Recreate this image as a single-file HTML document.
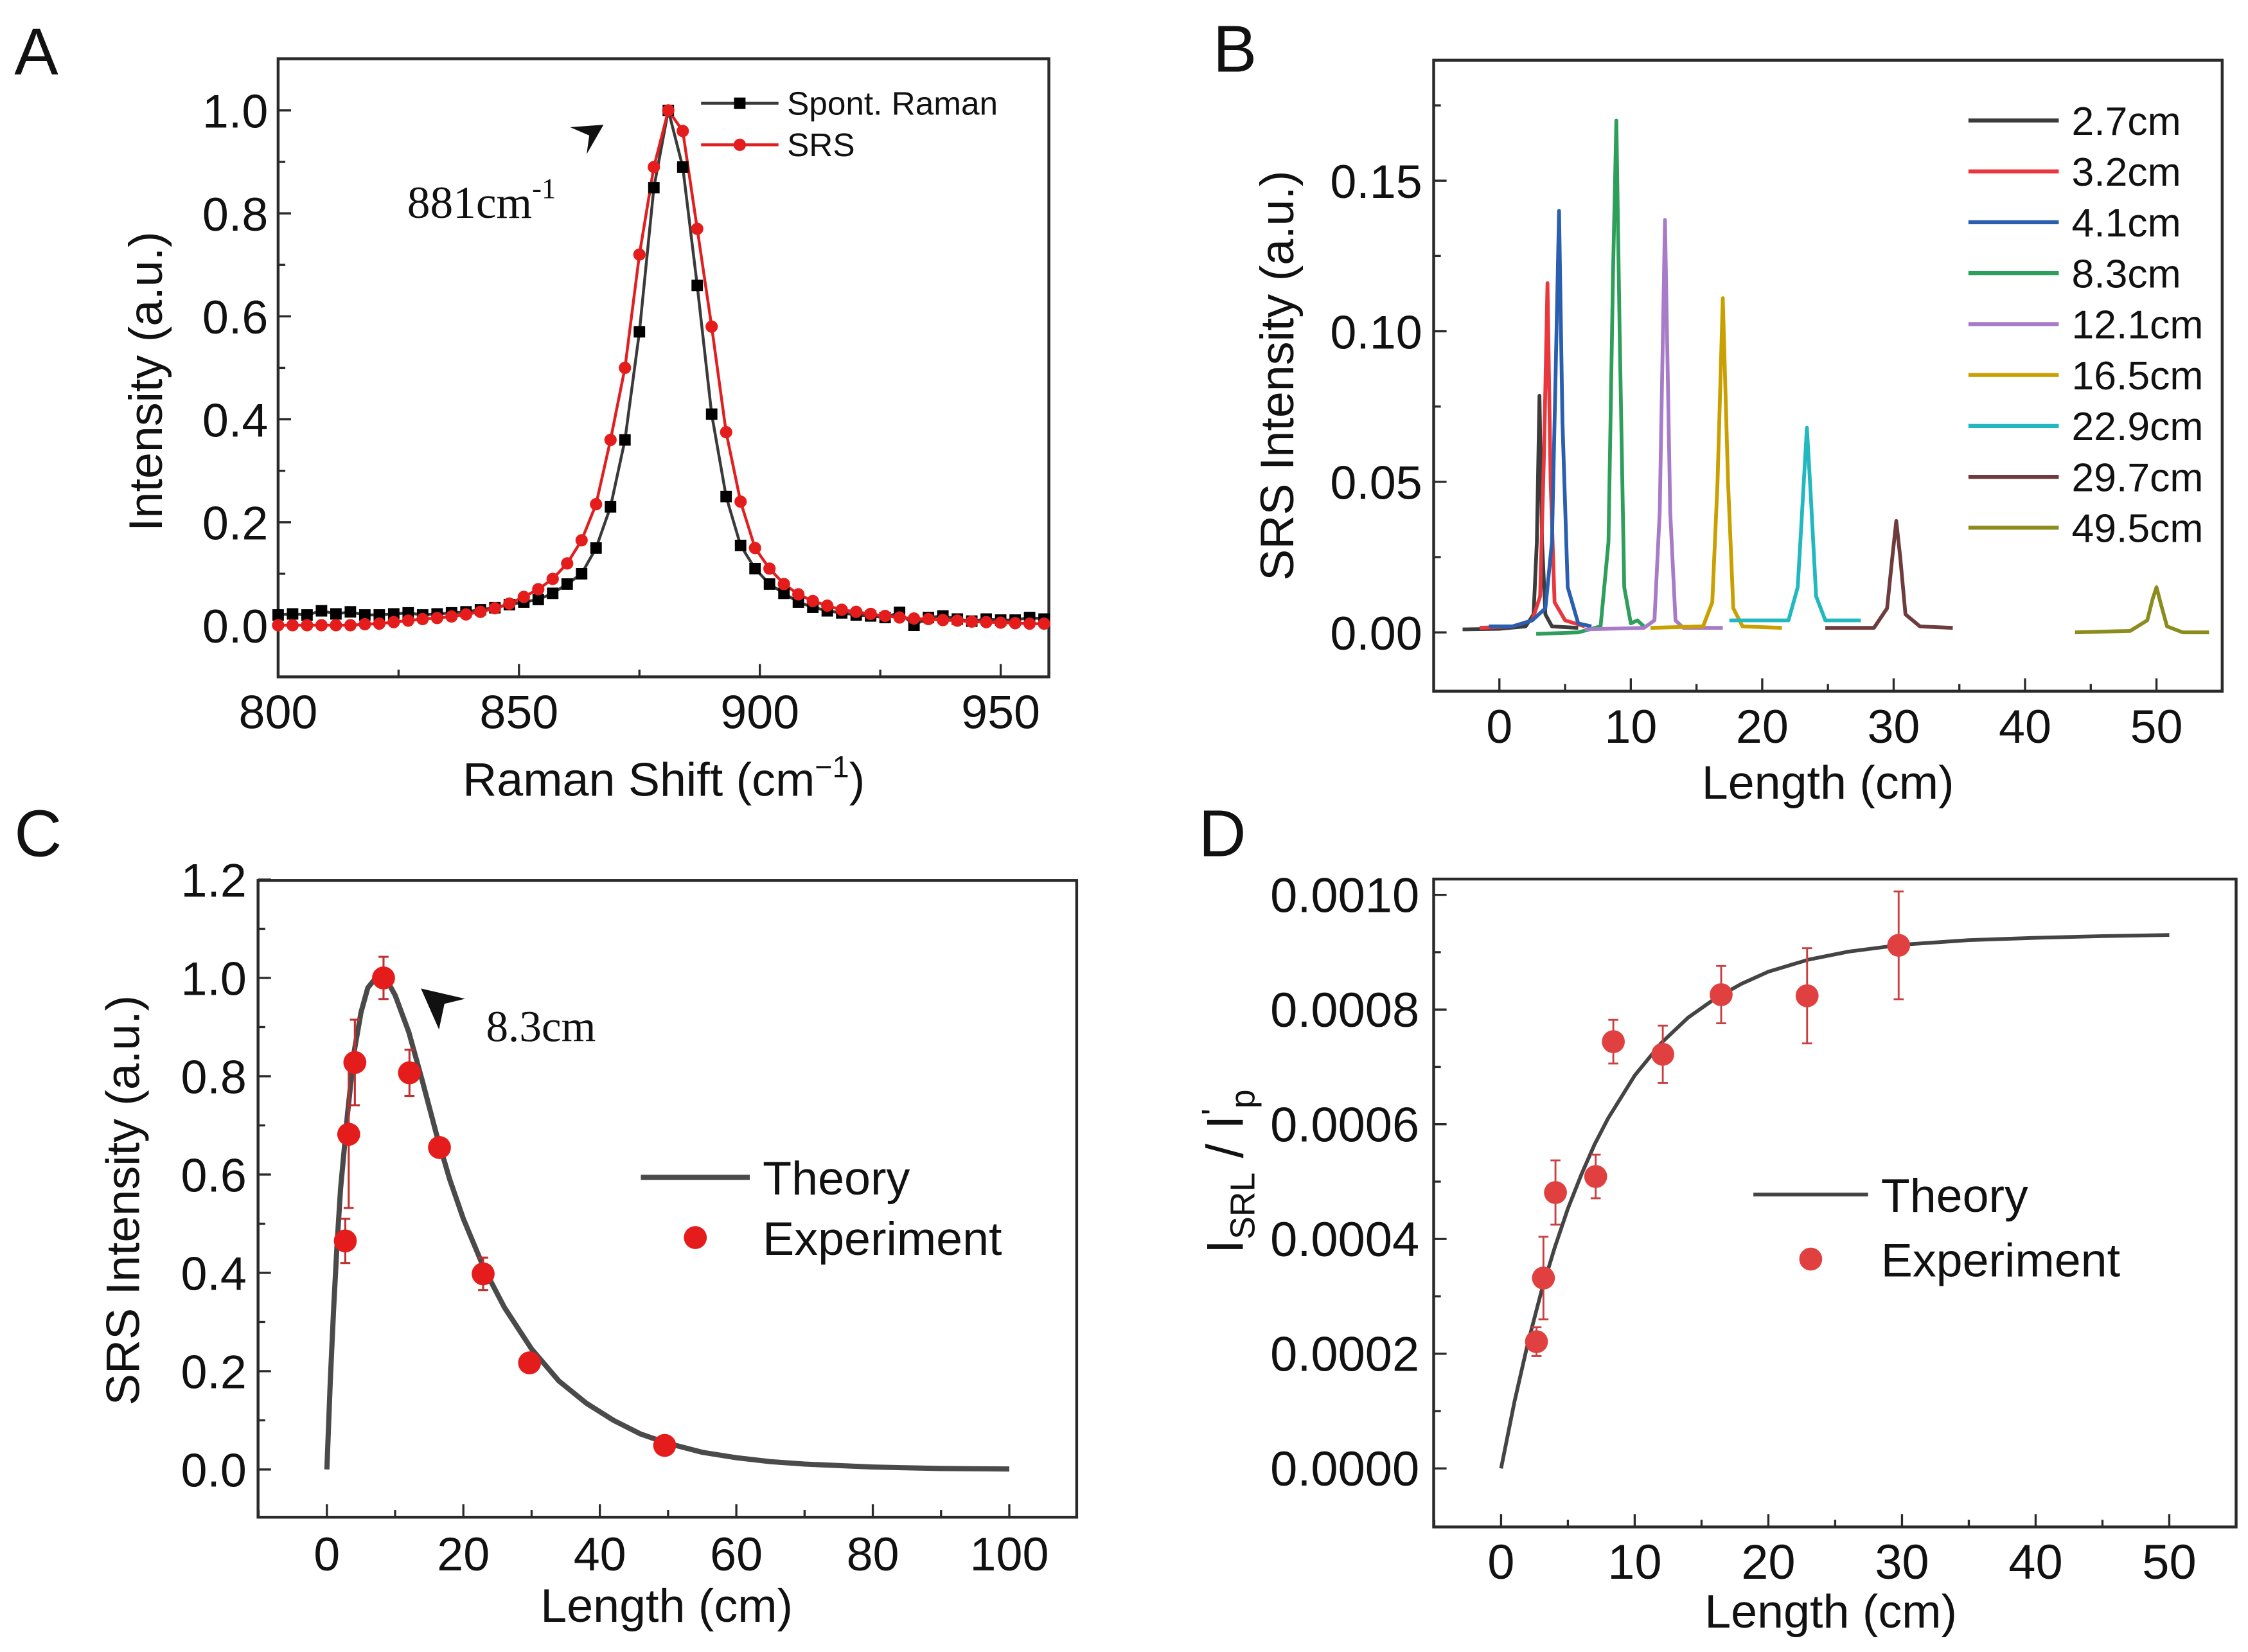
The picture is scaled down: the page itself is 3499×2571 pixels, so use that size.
<!DOCTYPE html>
<html><head><meta charset="utf-8"><style>
html,body{margin:0;padding:0;background:#fff;}
svg{display:block;}
text{font-family:"Liberation Sans",Arial,sans-serif;fill:#111;}
.serif{font-family:"Liberation Serif","Times New Roman",serif;}
</style></head><body>
<svg id="fig" xmlns="http://www.w3.org/2000/svg" width="3499" height="2571" viewBox="0 0 1568 1152" preserveAspectRatio="none">
<rect x="0" y="0" width="1568" height="1152" fill="#fff"/>
<text x="10" y="52" font-size="46">A</text>
<text x="846" y="50" font-size="46">B</text>
<text x="10" y="597" font-size="46">C</text>
<text x="836" y="597" font-size="46">D</text>
<g id="gA"></g>
<g id="gB"></g>
<g id="gC"></g>
<g id="gD"></g>
</svg>
<script>
// ---------- Panel A data ----------
var aShift = [800,803,806,809,812,815,818,821,824,827,830,833,836,839,842,845,848,851,854,857,860,863,866,869,872,875,878,881,884,887,890,893,896,899,902,905,908,911,914,917,920,923,926,929,932,935,938,941,944,947,950,953,956,959];
var aSpont = [0.02,0.022,0.02,0.028,0.022,0.026,0.02,0.02,0.022,0.024,0.02,0.022,0.024,0.026,0.03,0.034,0.04,0.045,0.05,0.062,0.08,0.1,0.15,0.23,0.36,0.57,0.85,1.0,0.89,0.66,0.41,0.25,0.155,0.11,0.08,0.062,0.045,0.035,0.028,0.024,0.02,0.018,0.015,0.025,0.0,0.015,0.018,0.012,0.008,0.012,0.01,0.01,0.015,0.012];
var aSRS = [0.0,0.0,0.0,0.0,0.0,0.0,0.002,0.003,0.006,0.009,0.012,0.014,0.017,0.021,0.026,0.033,0.042,0.055,0.07,0.09,0.12,0.165,0.235,0.36,0.5,0.72,0.89,1.0,0.96,0.77,0.58,0.375,0.24,0.15,0.11,0.08,0.06,0.047,0.038,0.03,0.026,0.022,0.018,0.015,0.013,0.012,0.01,0.009,0.007,0.006,0.005,0.004,0.003,0.003];
var aXTicks = [800,850,900,950];
var aYTicks = [0.0,0.2,0.4,0.6,0.8,1.0];
var aYTickLabels = ["0.0","0.2","0.4","0.6","0.8","1.0"];
// ---------- Panel B data ----------
var bLabels = ["2.7cm","3.2cm","4.1cm","8.3cm","12.1cm","16.5cm","22.9cm","29.7cm","49.5cm"];
var bColors = ["#3c3c3c","#e8383d","#2a5fb0","#2e9e5b","#a77bc8","#c9a000","#22b8c0","#6e3c3c","#8c8c1e"];
var bX0 = [-2.8,0,2,2.6,2.85,3.05,3.25,3.5,4,6];
var bY0 = [0.001,0.0012,0.002,0.006,0.03,0.0786,0.03,0.006,0.002,0.0015];
var bX1 = [-1.5,1,2.5,3.1,3.4,3.66,3.9,4.2,5,6.5];
var bY1 = [0.0015,0.002,0.004,0.012,0.06,0.116,0.05,0.01,0.004,0.002];
var bX2 = [-0.8,1,2.5,3.5,4.0,4.3,4.54,4.8,5.2,6,7];
var bY2 = [0.002,0.002,0.004,0.008,0.03,0.09,0.14,0.07,0.015,0.003,0.002];
var bX3 = [2.8,6,7.7,8.3,8.65,8.9,9.15,9.5,10,10.5,11];
var bY3 = [-0.0005,0.0,0.002,0.03,0.12,0.17,0.1,0.015,0.003,0.004,0.002];
var bX4 = [6.5,11,11.8,12.2,12.6,13.0,13.4,14,17];
var bY4 = [0.001,0.0015,0.004,0.04,0.137,0.04,0.004,0.0015,0.0015];
var bX5 = [11.5,15.5,16.2,16.6,17.0,17.4,17.8,18.5,21.5];
var bY5 = [0.0015,0.002,0.01,0.05,0.111,0.05,0.008,0.002,0.0015];
var bX6 = [17.5,22,22.7,23.1,23.4,23.7,24.1,24.8,27.5];
var bY6 = [0.004,0.004,0.015,0.045,0.068,0.045,0.012,0.004,0.004];
var bX7 = [24.8,28.5,29.5,29.9,30.2,30.5,30.9,32,34.5];
var bY7 = [0.0015,0.0015,0.008,0.025,0.037,0.025,0.006,0.002,0.0015];
var bX8 = [43.8,48,49.3,49.7,50.0,50.3,50.8,52,54];
var bY8 = [0.0,0.0005,0.004,0.011,0.015,0.01,0.002,0.0,0.0];
var bXTicks = [0,10,20,30,40,50];
var bYTicks = [0,0.05,0.10,0.15];
var bYTickLabels = ["0.00","0.05","0.10","0.15"];
// ---------- Panel C data ----------
var cTheoryX = [0,0.5,1,1.5,2,3,4,5,6,7,8,9,10,12,14,16,18,20,23,26,30,34,38,42,46,50,55,60,65,70,80,90,100];
var cTheoryY = [0,0.18,0.33,0.46,0.57,0.72,0.85,0.93,0.98,0.997,1.0,0.99,0.965,0.89,0.79,0.685,0.59,0.51,0.41,0.33,0.245,0.18,0.135,0.1,0.072,0.053,0.035,0.024,0.016,0.011,0.005,0.002,0.001];
var cExpX = [2.7,3.2,4.1,8.3,12.1,16.5,22.9,29.7,49.5];
var cExpY = [0.465,0.682,0.828,1.0,0.807,0.655,0.398,0.217,0.049];
var cExpErr = [0.045,0.15,0.087,0.043,0.047,0.0,0.033,0.0,0.0];
var cXTicks = [0,20,40,60,80,100];
var cYTicks = [0,0.2,0.4,0.6,0.8,1.0,1.2];
var cYTickLabels = ["0.0","0.2","0.4","0.6","0.8","1.0","1.2"];
// ---------- Panel D data ----------
var dTheoryX = [0,1,2,3,4,5,6,7,8,10,12,14,16,18,20,23,26,30,35,40,45,50];
var dTheoryY = [0,0.000116,0.000218,0.000307,0.000384,0.000453,0.000512,0.000565,0.00061,0.000685,0.000742,0.000786,0.000819,0.000845,0.000866,0.000887,0.000901,0.000913,0.000921,0.000925,0.000928,0.00093];
var dExpX = [2.65,3.17,4.07,7.08,8.4,12.1,16.47,22.9,29.75];
var dExpY = [0.000221,0.000332,0.000481,0.000509,0.000744,0.000722,0.000826,0.000824,0.000912];
var dExpErr = [0.000025,0.000072,0.000056,0.000038,0.000038,0.00005,0.00005,0.000083,0.000094];
var dXTicks = [0,10,20,30,40,50];
var dYTicks = [0,0.0002,0.0004,0.0006,0.0008,0.0010];
var dYTickLabels = ["0.0000","0.0002","0.0004","0.0006","0.0008","0.0010"];

var NS = "http://www.w3.org/2000/svg";
function el(parent, tag, attrs){var e=document.createElementNS(NS,tag);for(var k in attrs){e.setAttribute(k,attrs[k]);}parent.appendChild(e);return e;}
function scale(d0,d1,p0,p1){return function(v){return p0+(v-d0)/(d1-d0)*(p1-p0);};}

function frame(g, L,T,R,B, sx, sy, xMaj, xMin, yMaj, yMin, xLab, yLab, xLabY, yLabX, fs){
  var f=el(g,"rect",{x:L,y:T,width:R-L,height:B-T,fill:"none",stroke:"#2a2a2a","stroke-width":2});
  
  
  xMin.forEach(function(v){var x=sx(v);var t=el(g,"line",{x1:x,x2:x,y1:B,y2:B-5,stroke:"#2a2a2a","stroke-width":1.5});
    
    });
  xMaj.forEach(function(v,i){var x=sx(v);var t=el(g,"line",{x1:x,x2:x,y1:B,y2:B-9,stroke:"#2a2a2a","stroke-width":1.5});
    
    
    var tx=el(g,"text",{x:x,y:xLabY,"font-size":fs,"text-anchor":"middle"});tx.textContent=xLab[i];
    
    });
  yMin.forEach(function(v){var y=sy(v);var t=el(g,"line",{x1:L,x2:L+5,y1:y,y2:y,stroke:"#2a2a2a","stroke-width":1.5});
    
    });
  yMaj.forEach(function(v,i){var y=sy(v);var t=el(g,"line",{x1:L,x2:L+9,y1:y,y2:y,stroke:"#2a2a2a","stroke-width":1.5});
    
    
    var tx=el(g,"text",{x:yLabX,y:y+12,"font-size":fs,"text-anchor":"end"});tx.textContent=yLab[i];
    
    });
}
function mids(a){var r=[];for(var i=0;i<a.length-1;i++){r.push((a[i]+a[i+1])/2);}return r;}
function pts(xs,ys,sx,sy){return xs.map(function(x,i){return sx(x).toFixed(2)+","+sy(ys[i]).toFixed(2);}).join(" ");}

// ===== Panel A =====
(function(){
  var g=document.getElementById("gA");
  var sx=scale(800,960,194,731.6), sy=scale(-0.1,1.1,471.9,41.1);
  frame(g,194,41,731.6,472,sx,sy,aXTicks,[825,875,925],aYTicks,mids(aYTicks),aXTicks.map(String),aYTickLabels,508,187,33);
  var l1=el(g,"polyline",{points:pts(aShift,aSpont,sx,sy),fill:"none",stroke:"#3a3a3a","stroke-width":2});
  
  
  var l2=el(g,"polyline",{points:pts(aShift,aSRS,sx,sy),fill:"none",stroke:"#e02020","stroke-width":2});
  
  
  aShift.forEach(function(x,i){var m=el(g,"rect",{x:sx(x)-4,y:sy(aSpont[i])-4,width:8,height:8,fill:"#000"});
    
    });
  aShift.forEach(function(x,i){var m=el(g,"circle",{cx:sx(x),cy:sy(aSRS[i]),r:4.3,fill:"#e51c1c"});
    
    });
  // legend
  var ll=el(g,"line",{x1:489,x2:543,y1:72,y2:72,stroke:"#3a3a3a","stroke-width":2});
  var lm=el(g,"rect",{x:512,y:68,width:8,height:8,fill:"#000"});
  var lt=el(g,"text",{x:549,y:80,"font-size":23});lt.textContent="Spont. Raman";
  var ll2=el(g,"line",{x1:489,x2:543,y1:101,y2:101,stroke:"#e02020","stroke-width":2});
  var lm2=el(g,"circle",{cx:516,cy:101,r:4.3,fill:"#e51c1c"});
  var lt2=el(g,"text",{x:549,y:109,"font-size":23});lt2.textContent="SRS";
  var ar=el(g,"polygon",{points:"421,87 397.7,88.7 411,94.5 409.2,107.5",fill:"#111"});
  var an=el(g,"text",{x:284,y:152,"font-size":32,"class":"serif"});an.innerHTML='881cm<tspan dy="-14" font-size="20">-1</tspan>';
  
  var xt=el(g,"text",{x:463,y:555,"font-size":33,"text-anchor":"middle"});xt.innerHTML='Raman Shift (cm<tspan dy="-13" font-size="21">−1</tspan><tspan dy="13">)</tspan>';
  
  var yt=el(g,"text",{x:0,y:0,"font-size":33,"text-anchor":"middle",transform:"translate(113,266) rotate(-90)"});yt.textContent="Intensity (a.u.)";
  
})();

// ===== Panel B =====
(function(){
  var g=document.getElementById("gB");
  var sx=scale(-5,55,1000,1550), sy=scale(-0.02,0.19,483,42);
  frame(g,1000,42,1550,482,sx,sy,bXTicks,[-5,5,15,25,35,45],bYTicks,[0.025,0.075,0.125,0.175],bXTicks.map(String),bYTickLabels,518,992,33);
  var XS=[bX0,bX1,bX2,bX3,bX4,bX5,bX6,bX7,bX8], YS=[bY0,bY1,bY2,bY3,bY4,bY5,bY6,bY7,bY8];
  XS.forEach(function(xs,i){
    var p=el(g,"polyline",{points:pts(xs,YS[i],sx,sy),fill:"none",stroke:bColors[i],"stroke-width":2.6,"stroke-linejoin":"round"});
    
    
  });
  bLabels.forEach(function(lab,i){
    var y=84+i*35.5;
    var l=el(g,"line",{x1:1373,x2:1436,y1:y,y2:y,stroke:bColors[i],"stroke-width":2.8});
    
    
    var t=el(g,"text",{x:1445,y:y+10,"font-size":28});t.textContent=lab;
    
    
  });
  var xt=el(g,"text",{x:1275,y:557,"font-size":33,"text-anchor":"middle"});xt.textContent="Length (cm)";
  
  var yt=el(g,"text",{x:0,y:0,"font-size":33,"text-anchor":"middle",transform:"translate(902,262) rotate(-90)"});yt.textContent="SRS Intensity (a.u.)";
  
})();

// ===== Panel C =====
(function(){
  var g=document.getElementById("gC");
  var sx=scale(-10,110,180.4,751.6), sy=scale(-0.1,1.2,1059,613.4);
  frame(g,180,614,751,1058,sx,sy,cXTicks,[-10,10,30,50,70,90],cYTicks,[0.1,0.3,0.5,0.7,0.9,1.1],cXTicks.map(String),cYTickLabels,1095,172,33);
  var th=el(g,"polyline",{points:pts(cTheoryX,cTheoryY,sx,sy),fill:"none",stroke:"#4a4a4a","stroke-width":3.6,"stroke-linejoin":"round"});
  
  cExpX.forEach(function(x,i){
    if(cExpErr[i]>0){
      var X=sx(x),y1=sy(cExpY[i]-cExpErr[i]),y2=sy(cExpY[i]+cExpErr[i]);
      var e=el(g,"path",{d:"M"+X+","+y1+"V"+y2+"M"+(X-3.5)+","+y1+"H"+(X+3.5)+"M"+(X-3.5)+","+y2+"H"+(X+3.5),stroke:"#c03030","stroke-width":1.4,fill:"none"});
      
      
    }
  });
  cExpX.forEach(function(x,i){
    var c=el(g,"ellipse",{cx:sx(x),cy:sy(cExpY[i]),rx:8,ry:8,fill:"#e51c1c"});
    
    
  });
  var ar=el(g,"polygon",{points:"293.6,689.3 324.5,696.5 310,700 306.2,717.9",fill:"#111"});
  var an=el(g,"text",{x:339,y:726,"font-size":31,"class":"serif"});an.textContent="8.3cm";
  var ll=el(g,"line",{x1:447,x2:523,y1:821,y2:821,stroke:"#4a4a4a","stroke-width":3.6});
  var lt=el(g,"text",{x:532,y:833,"font-size":33});lt.textContent="Theory";
  var lm=el(g,"circle",{cx:485,cy:863,r:8,fill:"#e51c1c"});
  var lt2=el(g,"text",{x:532,y:875,"font-size":33});lt2.textContent="Experiment";
  var xt=el(g,"text",{x:465,y:1131,"font-size":33,"text-anchor":"middle"});xt.textContent="Length (cm)";
  
  var yt=el(g,"text",{x:0,y:0,"font-size":33,"text-anchor":"middle",transform:"translate(97,837) rotate(-90)"});yt.textContent="SRS Intensity (a.u.)";
  
})();

// ===== Panel D =====
(function(){
  var g=document.getElementById("gD");
  var sx=scale(-5,55,1000.4,1559.7), sy=scale(0,0.001,1024,624);
  frame(g,1000,613,1559.7,1064.8,sx,sy,dXTicks,[-5,5,15,25,35,45],dYTicks,[0.0001,0.0003,0.0005,0.0007,0.0009],dXTicks.map(String),dYTickLabels,1101,990,34);
  var th=el(g,"polyline",{points:pts(dTheoryX,dTheoryY,sx,sy),fill:"none",stroke:"#444","stroke-width":2.6,"stroke-linejoin":"round"});
  
  dExpX.forEach(function(x,i){
    var X=sx(x),y1=sy(dExpY[i]-dExpErr[i]),y2=sy(dExpY[i]+dExpErr[i]);
    var e=el(g,"path",{d:"M"+X+","+y1+"V"+y2+"M"+(X-3.5)+","+y1+"H"+(X+3.5)+"M"+(X-3.5)+","+y2+"H"+(X+3.5),stroke:"#c84040","stroke-width":1.3,fill:"none"});
    
    
  });
  dExpX.forEach(function(x,i){
    var c=el(g,"circle",{cx:sx(x),cy:sy(dExpY[i]),r:8,fill:"#e04040"});
    
    
  });
  var ll=el(g,"line",{x1:1223,x2:1303,y1:833,y2:833,stroke:"#444","stroke-width":2.6});
  var lt=el(g,"text",{x:1312,y:845,"font-size":33});lt.textContent="Theory";
  var lm=el(g,"circle",{cx:1263,cy:878,r:8,fill:"#e04040"});
  var lt2=el(g,"text",{x:1312,y:890,"font-size":33});lt2.textContent="Experiment";
  var xt=el(g,"text",{x:1277,y:1135,"font-size":33,"text-anchor":"middle"});xt.textContent="Length (cm)";
  
  var yt=el(g,"text",{x:0,y:0,"font-size":36,"text-anchor":"middle",transform:"translate(867,817) rotate(-90)"});
  yt.innerHTML='I<tspan dy="8" font-size="24">SRL</tspan><tspan dy="-8"> / I</tspan><tspan dy="-12" font-size="24">\'</tspan><tspan dy="20" font-size="24">p</tspan>';
  
})();
</script>
</body></html>
